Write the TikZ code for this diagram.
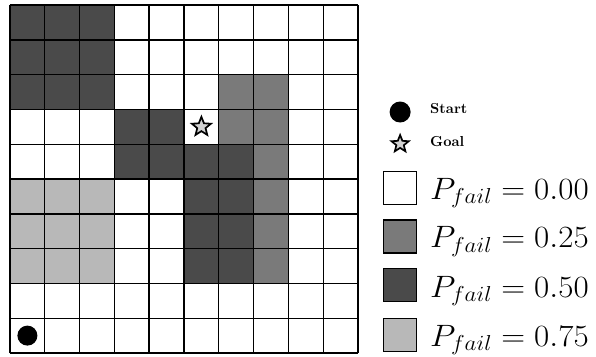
\RequirePackage{fix-cm}
\documentclass[tikz,border=0pt]{standalone}
\usepackage{amsmath,amssymb}
\usetikzlibrary{shapes.geometric}

\definecolor{failDark}{gray}{0.29}
\definecolor{failMed}{gray}{0.48}
\definecolor{failLight}{gray}{0.72}
\definecolor{starFill}{gray}{0.82}

\newcommand{\keylabel}[1]{\scalebox{1.07}[1]{$P_{fail} = #1$}}
\newcommand{\keyword}[1]{\scalebox{1.45}{\bfseries #1}}

\tikzset{
  gridline/.style={line width=1.4pt},
  keybox/.style={draw, line width=1.5pt, minimum size=33bp, inner sep=0pt},
  keytext/.style={anchor=base west, inner sep=0pt, font=\fontsize{31}{35}\selectfont},
  smalltext/.style={anchor=base west, inner sep=0pt},
  startdot/.style={circle, fill=black, minimum size=20bp, inner sep=0pt},
  goalstar/.style={star, star points=5, star point ratio=2.3, draw, fill=starFill,
    line width=1.7pt, minimum size=20bp, inner sep=0pt},
}

\begin{document}
\begin{tikzpicture}[x=34.8bp, y=34.8bp]
  \useasboundingbox (-0.287,-0.086) rectangle (16.839,10.144);
  % cells P = 0.50
  \fill[failDark] (0,7) rectangle (3,10);
  \fill[failDark] (3,6) rectangle (5,7);
  \fill[failDark] (3,5) rectangle (7,6);
  \fill[failDark] (5,2) rectangle (7,5);
  % cells P = 0.25
  \fill[failMed] (6,6) rectangle (8,8);
  \fill[failMed] (7,2) rectangle (8,6);
  % cells P = 0.75
  \fill[failLight] (0,2) rectangle (3,5);
  % grid
  \draw[gridline] (0,0) grid[step=1] (10,10);
  % start and goal
  \node[startdot] (start) at (0.5,0.5) {};
  \node[goalstar] (goal) at (5.5,6.5) {};
  % legend
  \node[startdot, minimum size=21bp] (keyStart) at (11.21,6.925) {};
  \node[smalltext] (labStart) at (12.07,6.87) {\keyword{Start}};
  \node[goalstar, minimum size=18bp] (keyGoal) at (11.21,6.006) {};
  \node[smalltext] (labGoal) at (12.07,5.92) {\keyword{Goal}};
  \node[keybox, fill=white] (keyZero) at (11.2,4.74) {};
  \node[keytext] (labZero) at (12.07,4.425) {\keylabel{0.00}};
  \node[keybox, fill=failMed] (keyQuarter) at (11.2,3.35) {};
  \node[keytext] (labQuarter) at (12.07,3.032) {\keylabel{0.25}};
  \node[keybox, fill=failDark] (keyHalf) at (11.2,1.95) {};
  \node[keytext] (labHalf) at (12.07,1.609) {\keylabel{0.50}};
  \node[keybox, fill=failLight] (keyThree) at (11.2,0.52) {};
  \node[keytext] (labThree) at (12.07,0.201) {\keylabel{0.75}};
\end{tikzpicture}
\end{document}
